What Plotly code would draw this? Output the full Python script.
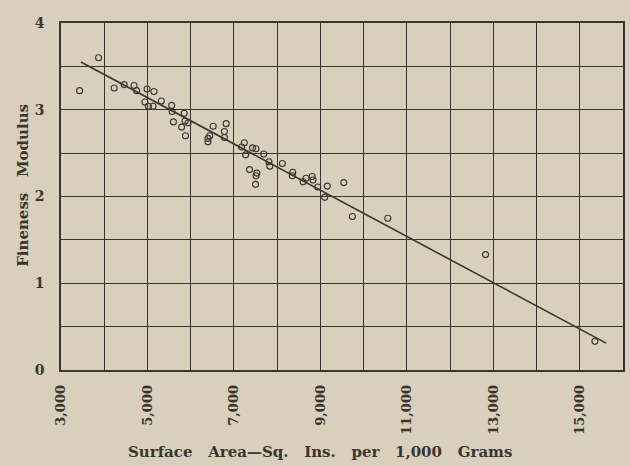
import plotly.graph_objects as go

# scattered observations (surface area, fineness modulus)
surface_area = [3430, 3870, 4230, 4460, 4690, 4750, 4990, 5150, 4940, 5020,
                5130, 5320, 5560, 5570, 5600, 5790, 5850, 5870, 5940, 5880,
                6400, 6400, 6440, 6520, 6820, 6780, 6780, 7240, 7180, 7270,
                7430, 7510, 7690, 7360, 7530, 7510, 7500, 7810, 7830, 8120,
                8360, 8350, 8600, 8670, 8810, 8830, 8940, 9160, 9100, 9540,
                9740, 10560, 12820, 15350]
fineness = [3.22, 3.60, 3.25, 3.29, 3.28, 3.22, 3.24, 3.21, 3.09, 3.04,
            3.04, 3.10, 3.05, 2.98, 2.86, 2.80, 2.96, 2.87, 2.85, 2.70,
            2.63, 2.67, 2.70, 2.81, 2.84, 2.75, 2.68, 2.62, 2.57, 2.48,
            2.56, 2.55, 2.49, 2.31, 2.27, 2.24, 2.14, 2.40, 2.35, 2.38,
            2.28, 2.24, 2.17, 2.21, 2.23, 2.19, 2.11, 2.12, 1.99, 2.16,
            1.77, 1.75, 1.33, 0.33]

# fitted straight line
fit_x = [3460, 15610]
fit_y = [3.55, 0.31]

x_grid = list(range(3000, 16001, 1000))
x_text = ["3,000", "", "5,000", "", "7,000", "", "9,000", "", "11,000", "",
          "13,000", "", "15,000", ""]
y_grid = [0, 0.5, 1, 1.5, 2, 2.5, 3, 3.5, 4]
y_text = ["0", "", "1", "", "2", "", "3", "", "4"]

sp = "\u00a0\u00a0\u00a0"
x_title = sp.join(["Surface", "Area\u2014Sq.", "Ins.", "per", "1,000", "Grams"])
y_title = sp.join(["Fineness", "Modulus"])

ink = "#3a352f"
paper = "#d8d0bc"
font = "DejaVu Serif"

fig = go.Figure()
fig.add_trace(go.Scatter(x=fit_x, y=fit_y, mode="lines",
                         line=dict(color=ink, width=1.6), hoverinfo="skip"))
fig.add_trace(go.Scatter(x=surface_area, y=fineness, mode="markers",
                         marker=dict(symbol="circle-open", size=6,
                                     color=ink, line=dict(width=1.1, color=ink))))

fig.update_layout(
    width=630, height=466,
    margin=dict(l=61, r=7, t=23, b=96, autoexpand=False),
    paper_bgcolor=paper, plot_bgcolor=paper,
    showlegend=False,
    font=dict(family=font, color=ink),
    annotations=[
        dict(text=x_title, xref="paper", yref="paper", x=0.46, y=-0.236,
             yanchor="middle", xanchor="center", showarrow=False,
             font=dict(family=font, size=15, color=ink, weight="bold")),
        dict(text=y_title, xref="paper", yref="paper", x=-0.068, y=0.533,
             xanchor="center", yanchor="middle", textangle=-90, showarrow=False,
             font=dict(family=font, size=15, color=ink, weight="bold")),
    ],
)
fig.update_xaxes(
    range=[3000, 16000], tickvals=x_grid, ticktext=x_text, tickangle=-90,
    showgrid=True, gridcolor=ink, gridwidth=1.4, automargin=False,
    showline=True, linecolor=ink, linewidth=1.6, mirror=True,
    zeroline=False, ticks="", ticklabelstandoff=8,
    tickfont=dict(family=font, size=13, color=ink, weight="bold"),
)
fig.update_yaxes(
    range=[0, 4], tickvals=y_grid, ticktext=y_text,
    showgrid=True, gridcolor=ink, gridwidth=1.4, automargin=False,
    showline=True, linecolor=ink, linewidth=1.6, mirror=True,
    zeroline=False, ticks="", ticklabelstandoff=12,
    tickfont=dict(family=font, size=14, color=ink, weight="bold"),
)

fig.write_html(
    "out.html",
    config={"displayModeBar": False},
    post_script="document.body.style.margin='0';document.body.style.background='" + paper + "';",
)
